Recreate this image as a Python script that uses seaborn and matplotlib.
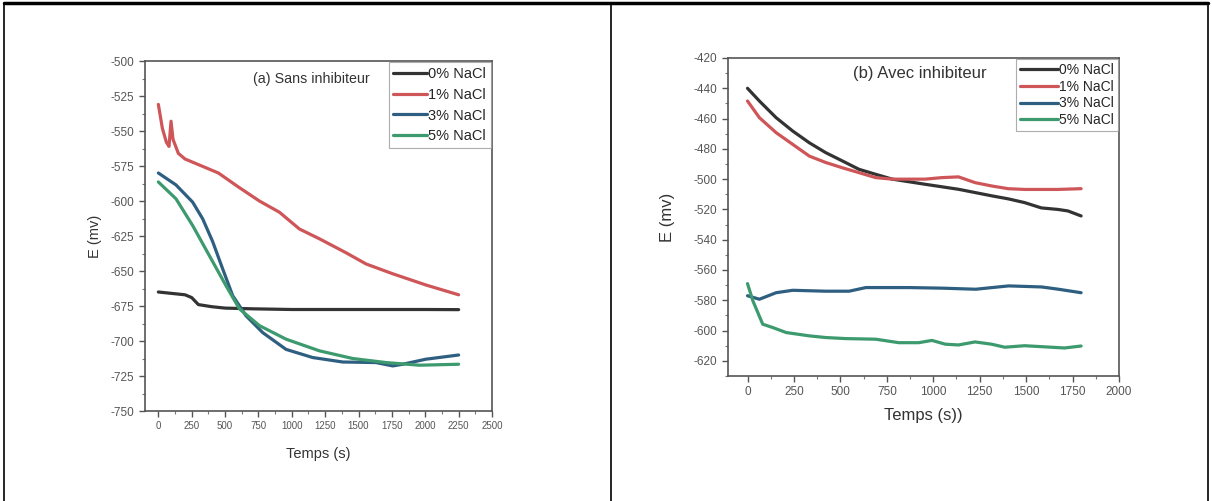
import numpy as np
import pandas as pd
import seaborn as sns
import matplotlib.pyplot as plt
from matplotlib.lines import Line2D
from matplotlib.ticker import MultipleLocator

# (a) Sans inhibiteur
a_t0 = [0, 100, 200, 250, 300, 400, 500, 700, 1000, 1500, 2000, 2250]
a_e0 = [-665, -666, -667, -669, -674, -675.5, -676.5, -677, -677.5, -677.5, -677.5, -677.6]
a_t1 = [0, 30, 60, 80, 95, 110, 150, 200, 350, 450, 600, 757, 907, 1057, 1207, 1407, 1557, 1757, 2005, 2250]
a_e1 = [-531, -548, -558, -561, -543, -556, -566, -570, -576, -580, -590, -600, -608, -620, -627, -637, -645, -652, -660, -667]
a_t3 = [0, 132, 257, 332, 407, 482, 557, 657, 782, 957, 1156, 1381, 1631, 1756, 1831, 2005, 2250]
a_e3 = [-580, -588.5, -600.8, -612.7, -629, -648.5, -667.6, -682, -694, -706, -711.8, -715, -715.4, -717.8, -716.6, -713, -710]
a_t5 = [0, 132, 257, 382, 507, 607, 757, 957, 1206, 1456, 1706, 1956, 2250]
a_e5 = [-586.4, -598.4, -617.5, -639, -660.5, -677, -689, -698.7, -707, -712.5, -715.4, -717.3, -716.6]

# (b) Avec inhibiteur
b_t0 = [0, 64, 154, 243, 333, 421, 511, 600, 690, 779, 957, 1136, 1314, 1403, 1492, 1582, 1671, 1725, 1796]
b_e0 = [-440, -448.4, -459.4, -468.2, -476, -482.5, -488, -493.5, -496.8, -500, -503.4, -506.7, -511, -513, -515.5, -519, -520, -521, -524.3]
b_t1 = [0, 64, 154, 243, 333, 421, 511, 600, 690, 779, 957, 1046, 1136, 1225, 1314, 1403, 1492, 1671, 1796]
b_e1 = [-448.4, -459.4, -469.3, -477, -484.8, -489, -492.5, -495.7, -499, -500, -500, -499, -498.5, -502.3, -504.5, -506.3, -506.8, -506.8, -506.3]
b_t3 = [0, 64, 154, 243, 421, 547, 637, 870, 1050, 1229, 1317, 1406, 1584, 1674, 1796]
b_e3 = [-577, -579.3, -575, -573.4, -574, -574, -571.6, -571.6, -572, -572.7, -571.6, -570.5, -571.2, -572.7, -575]
b_t5 = [0, 29, 82, 136, 208, 333, 421, 529, 690, 815, 922, 993, 1065, 1136, 1225, 1314, 1385, 1492, 1636, 1707, 1796]
b_e5 = [-569, -580.4, -595.8, -598, -601.3, -603.5, -604.6, -605.3, -605.7, -608, -608, -606.5, -609, -609.5, -607.5, -609, -611, -610, -611, -611.5, -610.2]

labels = ['0% NaCl', '1% NaCl', '3% NaCl', '5% NaCl']
colors = ['#333333', '#cf5658', '#2f5f80', '#3c9a6e']


def long_df(series):
    frames = []
    for lab, (t, e) in zip(labels, series):
        frames.append(pd.DataFrame({'t': t, 'E': e, 'conc': lab}))
    return pd.concat(frames, ignore_index=True)


df_a = long_df([(a_t0, a_e0), (a_t1, a_e1), (a_t3, a_e3), (a_t5, a_e5)])
df_b = long_df([(b_t0, b_e0), (b_t1, b_e1), (b_t3, b_e3), (b_t5, b_e5)])

sns.set_style('white')
plt.rcParams['font.family'] = ['Liberation Sans', 'DejaVu Sans']
plt.rcParams['axes.unicode_minus'] = False

fig = plt.figure(figsize=(12.12, 5.01), dpi=100)
ax_a = fig.add_axes([145 / 1212, 1 - 411 / 501, 347 / 1212, 350 / 501])
ax_b = fig.add_axes([728 / 1212, 1 - 376 / 501, 391 / 1212, 318 / 501])

pal = dict(zip(labels, colors))
sns.lineplot(data=df_a, x='t', y='E', hue='conc', palette=pal, lw=2.3,
             sort=False, estimator=None, ax=ax_a)
sns.lineplot(data=df_b, x='t', y='E', hue='conc', palette=pal, lw=2.3,
             sort=False, estimator=None, ax=ax_b)

ax_a.set_xlim(-100, 2500)
ax_a.set_ylim(-750, -500)
ax_a.xaxis.set_major_locator(MultipleLocator(250))
ax_a.xaxis.set_minor_locator(MultipleLocator(125))
ax_a.yaxis.set_major_locator(MultipleLocator(25))
ax_a.yaxis.set_minor_locator(MultipleLocator(12.5))
ax_a.set_xlabel('Temps (s)', fontsize=10.5, color='#333333', labelpad=11)
ax_a.set_ylabel('E (mv)', fontsize=10.5, color='#333333')
ax_a.text(0.31, 0.95, '(a) Sans inhibiteur', transform=ax_a.transAxes,
          fontsize=10.3, color='#333333', va='center')
ax_a.tick_params(axis='x', labelsize=7)
ax_a.tick_params(axis='y', labelsize=8.5)

ax_b.set_xlim(-105, 2000)
ax_b.set_ylim(-630, -420)
ax_b.xaxis.set_major_locator(MultipleLocator(250))
ax_b.xaxis.set_minor_locator(MultipleLocator(125))
ax_b.yaxis.set_major_locator(MultipleLocator(20))
ax_b.yaxis.set_minor_locator(MultipleLocator(10))
ax_b.set_xlabel('Temps (s))', fontsize=12, color='#333333', labelpad=7)
ax_b.set_ylabel('E (mv)', fontsize=12, color='#333333')
ax_b.text(0.32, 0.95, '(b) Avec inhibiteur', transform=ax_b.transAxes,
          fontsize=12, color='#333333', va='center')
ax_b.tick_params(axis='both', labelsize=8.5)

for ax in (ax_a, ax_b):
    ax.tick_params(which='major', direction='out', length=4, width=1,
                   colors='#555555', bottom=True, left=True)
    ax.tick_params(which='minor', direction='out', length=2, width=0.8,
                   colors='#777777', bottom=True, left=True)
    for s in ax.spines.values():
        s.set_color('#555555')
        s.set_linewidth(1.2)

ax_a.yaxis.set_label_coords(-0.125, 0.5)
ax_b.yaxis.set_label_coords(-0.135, 0.5)

leg = ax_a.legend(loc='upper right', fontsize=10.5, frameon=True, fancybox=False,
                  handlelength=2.3, handletextpad=0.1, borderpad=0.3,
                  labelspacing=0.47, borderaxespad=0.1)
leg.get_frame().set_edgecolor('#999999')
leg.get_frame().set_linewidth(0.8)
leg = ax_b.legend(loc='upper right', fontsize=10, frameon=True, fancybox=False,
                  handlelength=2.7, handletextpad=0.1, borderpad=0.3,
                  labelspacing=0.2, borderaxespad=0.05)
leg.get_frame().set_edgecolor('#999999')
leg.get_frame().set_linewidth(0.8)

# table borders around the two cells
W, H = 1212, 501
fig.add_artist(Line2D([4 / W, 1208 / W], [1 - 3 / H, 1 - 3 / H], color='black', lw=2.5))
for xp in (4, 611, 1208):
    fig.add_artist(Line2D([xp / W, xp / W], [0, 1 - 3 / H], color='black', lw=1.2))

fig.savefig('out.png', dpi=100)
